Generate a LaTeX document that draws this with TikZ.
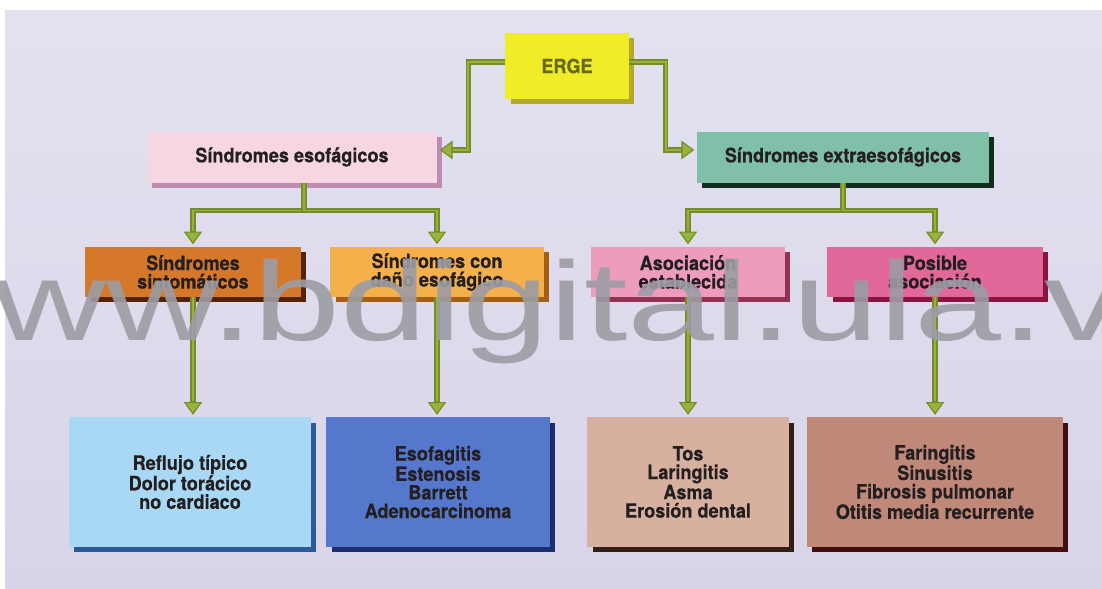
\documentclass[tikz,border=0pt]{standalone}
\usepackage{fontspec}
\setmainfont{TeX Gyre Heros}[FakeStretch=0.92, FakeBold=0.5]
\newfontfamily\wmfont{Liberation Sans}[FakeStretch=1.39]
\usetikzlibrary{positioning,arrows.meta,shadows}

\definecolor{bgtop}{RGB}{226,226,238}
\definecolor{bgbot}{RGB}{218,212,234}
\definecolor{boxtext}{RGB}{35,30,32}
\definecolor{ergetext}{RGB}{105,105,30}
\definecolor{ergeface}{RGB}{240,236,40}
\definecolor{ergeside}{RGB}{180,170,40}
\definecolor{esofface}{RGB}{247,214,228}
\definecolor{esofside}{RGB}{190,140,175}
\definecolor{extraface}{RGB}{128,191,168}
\definecolor{extraside}{RGB}{20,45,30}
\definecolor{sintface}{RGB}{214,120,42}
\definecolor{sintside}{RGB}{85,35,10}
\definecolor{danoface}{RGB}{244,176,74}
\definecolor{danoside}{RGB}{165,95,20}
\definecolor{asocface}{RGB}{238,156,188}
\definecolor{asocside}{RGB}{145,50,85}
\definecolor{posibface}{RGB}{226,104,154}
\definecolor{posibside}{RGB}{140,20,65}
\definecolor{reflface}{RGB}{168,216,244}
\definecolor{reflside}{RGB}{45,90,150}
\definecolor{esofagface}{RGB}{85,119,204}
\definecolor{esofagside}{RGB}{30,45,110}
\definecolor{tosface}{RGB}{216,176,160}
\definecolor{tosside}{RGB}{50,30,20}
\definecolor{faringface}{RGB}{192,136,120}
\definecolor{faringside}{RGB}{65,15,15}
\definecolor{connolive}{RGB}{116,140,42}
\definecolor{conninner}{RGB}{152,178,62}
\definecolor{wmgray}{RGB}{156,156,164}

\begin{document}
\begin{tikzpicture}[
		x=0.025cm, y=-0.025cm,
		every node/.style={align=center, inner sep=2pt, text=boxtext, font=\bfseries\fontsize{14}{13.2}\selectfont},
		box/.style 2 args={fill=#1, minimum height=1.25cm, drop shadow={shadow xshift=0.13cm, shadow yshift=-0.13cm, opacity=1, fill=#2}},
		conn/.style={draw=connolive, line width=3.6pt, -{Triangle[width=0.46cm, length=0.32cm, line width=0.8pt, fill=conninner]}, shorten >=0.06cm, postaction={draw=conninner, line width=1.1pt, -, shorten >=0.4cm}},
		wm/.style={text=wmgray, text opacity=0.9, inner sep=0pt, font=\wmfont\mdseries\fontsize{80}{80}\selectfont}
		]
		\useasboundingbox (0,0) rectangle (1102,588);
		\fill[white] (0,0) rectangle (1102,588);
		\shade[top color=bgtop, bottom color=bgbot] (5,10) rectangle (1102,588);
		
		% top level
		\node[box={ergeface}{ergeside}, minimum width=3.075cm, minimum height=1.65cm, text=ergetext] (erge) at (567,66) {ERGE};
		\node[box={esofface}{esofside}, minimum width=7.25cm, minimum height=1.275cm] (esof) at (292,157) {Síndromes esofágicos};
		\node[box={extraface}{extraside}, minimum width=7.3cm, minimum height=1.275cm] (extra) at (843,157) {Síndromes extraesofágicos};
		
		% second level
		\node[box={sintface}{sintside}, minimum width=5.375cm] (sint) at (193,272) {Síndromes\\sintomáticos};
		\node[box={danoface}{danoside}, minimum width=5.325cm] (dano) at (437,272) {Síndromes con\\daño esofágico};
		\node[box={asocface}{asocside}, minimum width=4.825cm] (asoc) at (688,272) {Asociación\\establecida};
		\node[box={posibface}{posibside}, minimum width=5.375cm] (posib) at (935,272) {Posible\\asociación};
		
		% third level
		\node[box={reflface}{reflside}, minimum width=6.05cm, minimum height=3.225cm] (refl) at (190,482) {Reflujo típico\\Dolor torácico\\no cardiaco};
		\node[box={esofagface}{esofagside}, minimum width=5.575cm, minimum height=3.225cm] (esofag) at (438,482) {Esofagitis\\Estenosis\\Barrett\\Adenocarcinoma};
		\node[box={tosface}{tosside}, minimum width=5.025cm, minimum height=3.225cm] (tos) at (688,482) {Tos\\Laringitis\\Asma\\Erosión dental};
		\node[box={faringface}{faringside}, minimum width=6.4cm, minimum height=3.225cm] (faring) at (935,482) {Faringitis\\Sinusitis\\Fibrosis pulmonar\\Otitis media recurrente};
		
		\draw[conn] ([yshift=0.1cm]erge.west) -- ++(-37,0) |- ([yshift=0.175cm]esof.east);
		\draw[conn] ([yshift=0.1cm]erge.east) -- ++(37,0) |- ([yshift=0.175cm]extra.west);
		\draw[conn] ([xshift=0.3cm]esof.south) -- ++(0,27.5) -| (sint.north);
		\draw[conn] ([xshift=0.3cm]esof.south) -- ++(0,27.5) -| (dano.north);
		\draw[conn] (extra.south) -- ++(0,27.5) -| (asoc.north);
		\draw[conn] (extra.south) -- ++(0,27.5) -| (posib.north);
		\draw[conn] (sint.south) -- (sint.south |- refl.north);
		\draw[conn] (dano.south) -- (dano.south |- esofag.north);
		\draw[conn] (asoc.south) -- (asoc.south |- tos.north);
		\draw[conn] (posib.south) -- (posib.south |- faring.north);
		
		\node[wm, anchor=base west] (wmark) at (-120,340) {www.bdigital.ula.ve};
	\end{tikzpicture}
\end{document}
